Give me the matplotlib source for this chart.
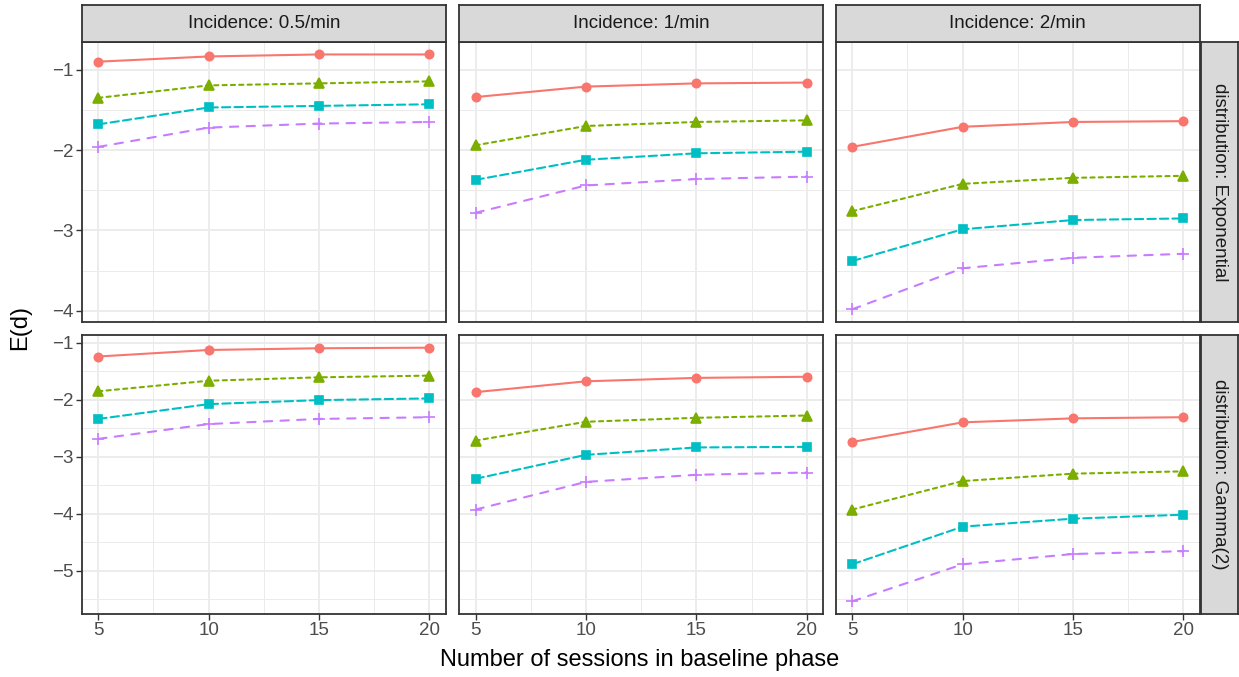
import numpy as np
import matplotlib
matplotlib.use("Agg")
import matplotlib.pyplot as plt
from matplotlib.ticker import MultipleLocator

plt.rcParams['font.family'] = ['Liberation Sans', 'DejaVu Sans']

# baseline sessions on the x axis
sessions = [5, 10, 15, 20]

col_labels = ["Incidence: 0.5/min", "Incidence: 1/min", "Incidence: 2/min"]
row_labels = ["distribution: Exponential", "distribution: Gamma(2)"]

# E(d) per panel, four curves each (red, green, cyan, purple)
exp_05 = [[-0.90, -0.835, -0.81, -0.81],
          [-1.35, -1.195, -1.17, -1.145],
          [-1.68, -1.47, -1.45, -1.43],
          [-1.96, -1.72, -1.67, -1.65]]
exp_1 = [[-1.34, -1.21, -1.17, -1.16],
         [-1.94, -1.70, -1.65, -1.63],
         [-2.37, -2.12, -2.04, -2.02],
         [-2.78, -2.44, -2.36, -2.33]]
exp_2 = [[-1.96, -1.71, -1.65, -1.64],
         [-2.76, -2.42, -2.345, -2.32],
         [-3.38, -2.985, -2.87, -2.85],
         [-3.98, -3.47, -3.34, -3.29]]
gam_05 = [[-1.245, -1.13, -1.10, -1.09],
          [-1.855, -1.67, -1.61, -1.58],
          [-2.34, -2.08, -2.01, -1.98],
          [-2.69, -2.43, -2.34, -2.31]]
gam_1 = [[-1.87, -1.68, -1.62, -1.60],
         [-2.72, -2.39, -2.32, -2.28],
         [-3.39, -2.97, -2.84, -2.83],
         [-3.93, -3.445, -3.32, -3.28]]
gam_2 = [[-2.745, -2.40, -2.33, -2.31],
         [-3.93, -3.43, -3.30, -3.26],
         [-4.89, -4.23, -4.09, -4.02],
         [-5.54, -4.89, -4.71, -4.66]]

panels = [[exp_05, exp_1, exp_2],
          [gam_05, gam_1, gam_2]]

colors = ["#F8766D", "#7CAE00", "#00BFC4", "#C77CFF"]
markers = ["o", "^", "s", "+"]
msizes = [6, 7, 6, 9]
dashes = [None, (2, 2), (4, 2), (4, 4)]

W, H = 1239, 677
fig = plt.figure(figsize=(W / 100, H / 100), dpi=100)

def px_axes(x0, y0, x1, y1):
    # pixel box (top-left origin) -> figure axes
    return fig.add_axes([x0 / W, 1 - y1 / H, (x1 - x0) / W, (y1 - y0) / H])

col_x = [(81.7, 446), (459, 823.3), (835.7, 1200)]
row_y = [(41.7, 322), (335, 614)]
strip_top = 4.7
strip_right = 1238

edge = "#333333"
tick_size = 13.5

for r in range(2):
    vals = np.array(panels[r])
    lo, hi = vals.min(), vals.max()
    pad = 0.05 * (hi - lo)
    for c in range(3):
        ax = px_axes(col_x[c][0], row_y[r][0], col_x[c][1], row_y[r][1])
        for k in range(4):
            line, = ax.plot(sessions, panels[r][c][k], color=colors[k], lw=1.5,
                            marker=markers[k], ms=msizes[k], mew=1.2,
                            dash_capstyle="round", zorder=3)
            if dashes[k] is not None:
                line.set_dashes(dashes[k])
        ax.set_xlim(4.25, 20.75)
        ax.set_ylim(lo - pad, hi + pad)
        ax.xaxis.set_major_locator(MultipleLocator(5))
        ax.xaxis.set_minor_locator(MultipleLocator(2.5))
        ax.yaxis.set_major_locator(MultipleLocator(1))
        ax.yaxis.set_minor_locator(MultipleLocator(0.5))
        ax.grid(which="major", color="#EBEBEB", lw=1.3, zorder=0)
        ax.grid(which="minor", color="#EBEBEB", lw=0.7, zorder=0)
        ax.set_axisbelow(True)
        for s in ax.spines.values():
            s.set_color(edge)
            s.set_linewidth(1.3)
            s.set_zorder(4)
        ax.tick_params(which="minor", length=0)
        ax.tick_params(which="major", length=4, width=1, color=edge,
                       labelsize=tick_size, labelcolor="#4D4D4D", pad=2)
        if c != 0:
            ax.tick_params(axis="y", which="major", length=0, labelleft=False)
        if r != 1:
            ax.tick_params(axis="x", which="major", length=0, labelbottom=False)

        if r == 0:
            st = px_axes(col_x[c][0], strip_top, col_x[c][1], row_y[0][0])
            st.set_facecolor("#D9D9D9")
            st.set_xticks([])
            st.set_yticks([])
            for s in st.spines.values():
                s.set_color(edge)
                s.set_linewidth(1.3)
            st.text(0.5, 0.5, col_labels[c], ha="center", va="center",
                    fontsize=tick_size, color="#1A1A1A", transform=st.transAxes)

    sr = px_axes(1201, row_y[r][0], strip_right, row_y[r][1])
    sr.set_facecolor("#D9D9D9")
    sr.set_xticks([])
    sr.set_yticks([])
    for s in sr.spines.values():
        s.set_color(edge)
        s.set_linewidth(1.3)
    sr.text(0.5, 0.5, row_labels[r], ha="center", va="center", rotation=-90,
            fontsize=tick_size, color="#1A1A1A", transform=sr.transAxes)

fig.text(640 / W, 1 - 660 / H, "Number of sessions in baseline phase",
         ha="center", va="center", fontsize=17, color="black")
fig.text(20 / W, 1 - 328 / H, "E(d)", ha="center", va="center",
         rotation=90, fontsize=17, color="black")

fig.savefig("out.png", dpi=100)
